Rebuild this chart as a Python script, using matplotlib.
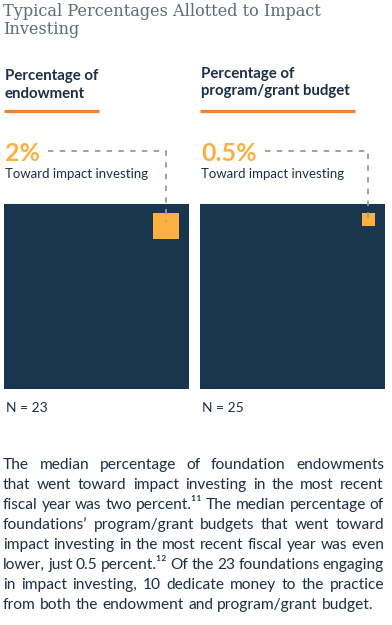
import numpy as np
import matplotlib
matplotlib.use("Agg")
import matplotlib.pyplot as plt
from matplotlib.patches import Rectangle

# data
panel_titles = [["Percentage of", "endowment"],
                ["Percentage of", "program/grant budget"]]
pct_values = [2, 0.5]
pct_labels = ["2%", "0.5%"]
n_values = [23, 25]
sub_label = "Toward impact investing"
title_lines = ["Typical Percentages Allotted to Impact", "Investing"]
paragraph = [
    "The median percentage of foundation endowments",
    "that went toward impact investing in the most recent",
    "fiscal year was two percent.\u00b9\u00b9 The median percentage of",
    "foundations\u2019 program/grant budgets that went toward",
    "impact investing in the most recent fiscal year was even",
    "lower, just 0.5 percent.\u00b9\u00b2 Of the 23 foundations engaging",
    "in impact investing, 10 dedicate money to the practice",
    "from both the endowment and program/grant budget.",
]

NAVY = "#1a354e"
GOLD = "#fbb040"
ORANGE = "#f5822a"
DASH = "#8b9ea9"
TEXT = "#1c2f45"
GREY = "#5b6b77"

W, H = 392, 625
fig = plt.figure(figsize=(W / 100, H / 100), dpi=100)
ax = fig.add_axes([0, 0, 1, 1])
ax.set_xlim(0, W)
ax.set_ylim(H, 0)
ax.axis("off")

for k, tl in enumerate(title_lines):
    ax.text(3, 16 + 18 * k, tl, family="DejaVu Serif", fontsize=11.6,
            color=GREY, va="baseline")

panel_x = [4, 200]
side = 185
sq_top = 204
for i in range(2):
    x0 = panel_x[i]
    for k, hl in enumerate(panel_titles[i]):
        ax.text(x0 + 1, 80 - 2 * i + 17.5 * k, hl, family="Lato", weight="bold",
                fontsize=10.8, color=TEXT, va="baseline")
    ax.plot([x0, x0 + (95 if i == 0 else 155)], [110.5, 110.5], color=ORANGE,
            lw=2.3, solid_capstyle="butt")
    t = ax.text(x0 + 1, 161, pct_labels[i], family="Lato", weight="bold",
                fontsize=18, color=GOLD, va="baseline")
    ax.text(x0 + 1, 178, sub_label, family="Lato", fontsize=9.5, color=TEXT,
            va="baseline")
    # navy square
    ax.add_patch(Rectangle((x0, sq_top), side, side, color=NAVY, lw=0))
    # gold square, area scaled
    s = side * np.sqrt(pct_values[i] / 100)
    gx = x0 + side - 10 - s
    gy = sq_top + 9
    ax.add_patch(Rectangle((gx, gy), s, s, color=GOLD, lw=0))
    cx = gx + s / 2
    # dashed leader
    fig.canvas.draw()
    r = fig.canvas.get_renderer()
    bb = t.get_window_extent(r)
    ln, = ax.plot([bb.x1 + 8, cx, cx], [150.7, 150.7, 222], color=DASH, lw=1.3)
    ln.set_dashes((3, 3.5))
    ax.text(x0 + 2, 412, f"N = {n_values[i]}", family="Lato", fontsize=10,
            color=TEXT, va="baseline")

# justified paragraph
fig.canvas.draw()
r = fig.canvas.get_renderer()
left, right = 3, 384
psize = 11.2
sp = ax.text(0, 0, "a a", family="Lato", fontsize=psize)
sa = ax.text(0, 0, "aa", family="Lato", fontsize=psize)
space_w = sp.get_window_extent(r).width - sa.get_window_extent(r).width
sp.remove()
sa.remove()
for j, line in enumerate(paragraph):
    y = 469 + 20 * j
    words = line.split(" ")
    texts = [ax.text(0, y, w, family="Lato", fontsize=psize, color=TEXT,
                     va="baseline") for w in words]
    widths = [t.get_window_extent(r).width for t in texts]
    if j < len(paragraph) - 1:
        gap = (right - left - sum(widths)) / (len(words) - 1)
    else:
        gap = space_w * 1.05
    x = left
    for t, w in zip(texts, widths):
        t.set_x(x)
        x += w + gap

fig.savefig("out.png", dpi=100)
